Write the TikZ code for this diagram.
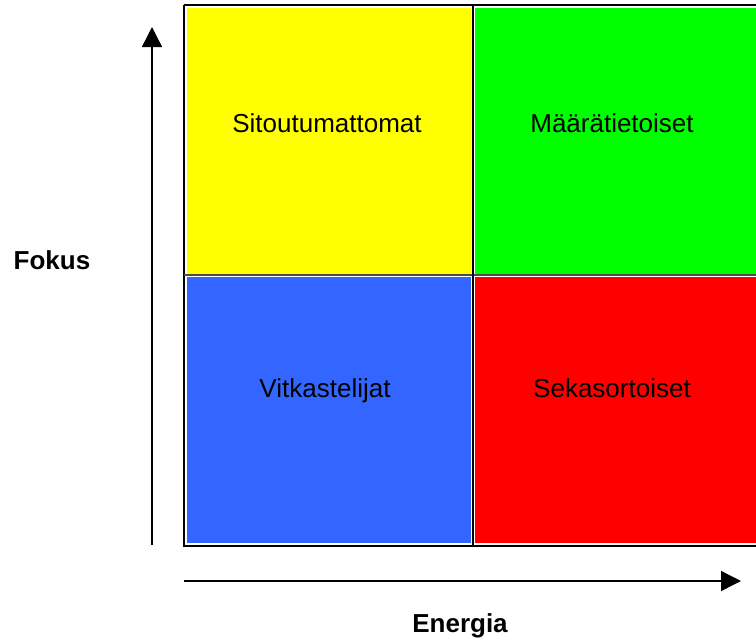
\documentclass[tikz,border=0pt]{standalone}
\usepackage{fontspec}
\setmainfont{Liberation Sans}
\usetikzlibrary{arrows.meta}
\definecolor{sityellow}{RGB}{255,255,0}
\definecolor{margreen}{RGB}{0,255,0}
\definecolor{vitblue}{RGB}{51,102,255}
\definecolor{sekred}{RGB}{255,0,0}

\begin{document}
\begin{tikzpicture}[x=1pt, y=-1pt,
    every node/.style={font=\fontsize{26}{30}\selectfont},
    quad/.style={draw=none, inner sep=0pt, minimum width=284pt, minimum height=266pt},
    quadlabel/.style={anchor=base},
    axislabel/.style={anchor=base, font=\fontsize{26}{30}\selectfont\bfseries},
    axis/.style={line width=1.4pt, -{Triangle[length=20pt,width=20pt]}}]
  \useasboundingbox (0,0) rectangle (756,641);
  % outer frame
  \draw[line width=2pt] (184,5) -- (760,5);
  \draw[line width=2pt] (184,5) -- (184,546) -- (760,546);
  % quadrants
  \node[quad, fill=sityellow] (sit) at (329,140.5) {};
  \node[quad, fill=margreen, minimum width=290pt] (mar) at (620,140.5) {};
  \node[quad, fill=vitblue] (vit) at (329,410) {};
  \node[quad, fill=sekred, minimum width=290pt] (sek) at (620,410) {};
  % dividers
  \draw[line width=2pt, gray!60!black] (184,275) -- (760,275);
  \draw[line width=2pt] (473,5) -- (473,546);
  % quadrant texts
  \node[quadlabel] (sittext) at (327,132) {Sitoutumattomat};
  \node[quadlabel] (martext) at (612,132) {Määrätietoiset};
  \node[quadlabel] (vittext) at (325,397) {Vitkastelijat};
  \node[quadlabel] (sektext) at (612,397) {Sekasortoiset};
  % axes
  \coordinate (ybot) at (152,545);
  \coordinate (ytop) at (152,27);
  \coordinate (xleft) at (184,581);
  \coordinate (xright) at (741,581);
  \draw[axis] (ybot) -- (ytop);
  \draw[axis] (xleft) -- (xright);
  \node[axislabel] (fokus) at (52,269) {Fokus};
  \node[axislabel] (energia) at (460,632) {Energia};
\end{tikzpicture}
\end{document}
